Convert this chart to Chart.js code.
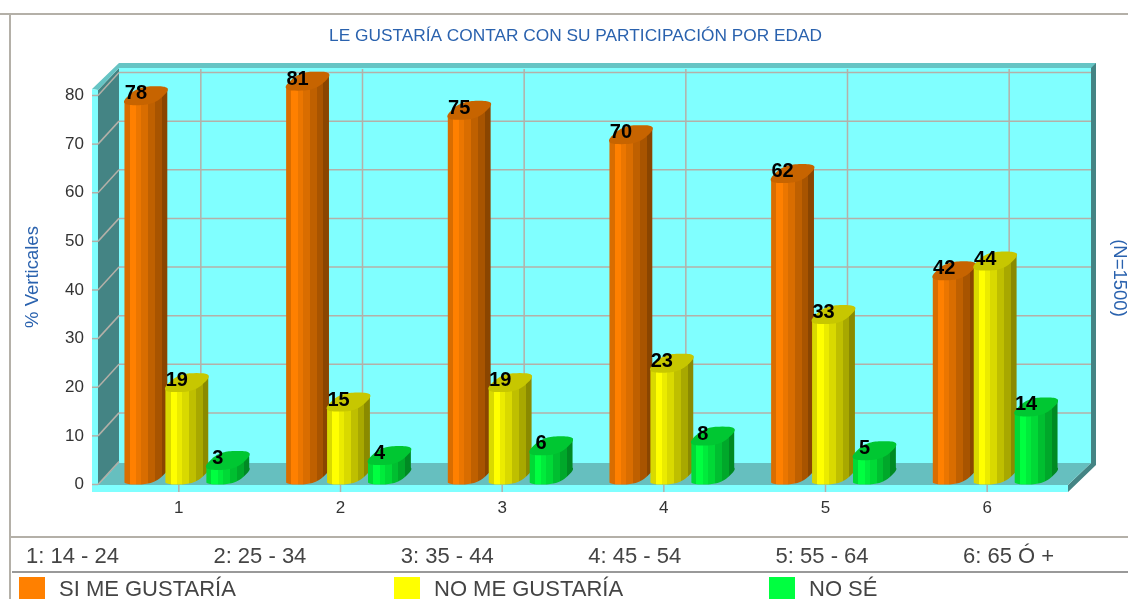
<!DOCTYPE html>
<html>
<head>
<meta charset="utf-8">
<title>Le gustaría contar con su participación por edad</title>
<script src="https://cdn.jsdelivr.net/npm/chart.js@4"></script>
<style>
html, body { margin: 0; padding: 0; background: #fff; overflow: hidden; }
canvas { display: block; }
</style>
</head>
<body>
<canvas id="myChart" width="1128" height="599"></canvas>
<script>
const categories = ['1', '2', '3', '4', '5', '6'];
const ageLabels = ['1: 14 - 24', '2: 25 - 34', '3: 35 - 44', '4: 45 - 54', '5: 55 - 64', '6: 65 Ó +'];
const siGusta = [78, 81, 75, 70, 62, 42];
const noGusta = [19, 15, 19, 23, 33, 44];
const noSe = [3, 4, 6, 8, 5, 14];
const seriesNames = ['SI ME GUSTARÍA', 'NO ME GUSTARÍA', 'NO SÉ'];
const seriesColors = [[255, 128, 0], [255, 255, 0], [0, 255, 64]];

const FONT = '"Liberation Sans", Arial, sans-serif';
const BLUE = '#2a62ae';
const GRID = '#b4b0a8';
const depthX = 22, depthY = 23;

function rgb(c, k) {
    return 'rgb(' + c.map(v => Math.round(v * k)).join(',') + ')';
}

function poly(ctx, pts, color) {
    ctx.fillStyle = color;
    ctx.beginPath();
    pts.forEach((p, i) => i ? ctx.lineTo(p[0], p[1]) : ctx.moveTo(p[0], p[1]));
    ctx.closePath();
    ctx.fill();
}

function line(ctx, x1, y1, x2, y2, color, w) {
    ctx.strokeStyle = color;
    ctx.lineWidth = w || 1;
    ctx.beginPath();
    ctx.moveTo(x1, y1);
    ctx.lineTo(x2, y2);
    ctx.stroke();
}

function spow(v) {
    return Math.sign(v) * Math.pow(Math.abs(v), 0.7);
}

// contorno de la tapa: circulo oblicuo algo cuadrado, como en el original
function rim(cx, cy, r, t) {
    const k = r / 21, s = spow(Math.sin(t));
    return [cx + 17.2 * k * spow(Math.cos(t)) + 9.5 * k * s, cy - 9.5 * s];
}

// caja 3D y rejilla, sacadas de las escalas
const walls = {
    id: 'walls',
    beforeDatasetsDraw(chart) {
        const ctx = chart.ctx;
        const a = chart.chartArea;
        const sx = chart.scales.x, sy = chart.scales.y;
        const L = a.left, R = a.right, B = a.bottom + 0.5;
        const backL = L + depthX - 1, backR = R + depthX + 1;
        const backT = 68, backB = B - depthY + 1;

        poly(ctx, [[backL, backT - 5], [backR + 5, backT - 5], [backR + 5, backB + 2], [R, B + 7], [R, B], [backR, backB], [backR, backT], [backL, backT]], '#448484');
        poly(ctx, [[backL, backT], [backR, backT], [backR, backB], [backL, backB]], '#80ffff');
        poly(ctx, [[L, 90], [backL, backT], [backL, backB], [L, B]], '#448484');
        poly(ctx, [[L, B], [backL, backB], [backR, backB], [R, B]], '#66bfbf');
        poly(ctx, [[L - 6, 89], [backL, backT - 5], [backR + 5, backT - 5], [backR, backT], [backL, backT], [L, 90]], '#66c4c4');
        poly(ctx, [[L - 6, 89], [L, 90], [L, B], [R, B], [R, B + 7], [L - 6, B + 7]], '#80ffff');

        sy.ticks.forEach((t, i) => {
            const y = sy.getPixelForTick(i);
            line(ctx, L - 6, y, L, y, GRID, 1.5);
            line(ctx, L, y, backL, y - depthY, GRID, 1.5);
            if (t.value > 0) line(ctx, backL, y - depthY, backR, y - depthY, GRID, 1.5);
        });
        sx.ticks.forEach((t, i) => {
            const x = sx.getPixelForTick(i);
            line(ctx, x + depthX, backT + 1, x + depthX, backB, GRID, 1.5);
            line(ctx, x, B, x, B + 7, GRID, 1.5);
        });
    },
    // las barras se pintan despues como cilindros
    beforeDatasetDraw() {
        return false;
    },
    afterDatasetsDraw(chart) {
        const ctx = chart.ctx;
        const sink = 9.5, shift = 8;

        chart.data.datasets.forEach((ds, d) => {
            const c = seriesColors[d];
            chart.getDatasetMeta(d).data.forEach(bar => {
                const cx = bar.x + shift;
                const r = bar.width / 2 + 1;
                const top = bar.y - sink, base = bar.base - sink;

                const g = ctx.createLinearGradient(cx - r, 0, cx + r, 0);
                const bands = [[0, 0.85], [0.12, 1], [0.27, 0.92], [0.39, 0.85], [0.55, 0.75], [0.71, 0.66], [0.87, 0.54]];
                bands.forEach((b, i) => {
                    if (i) g.addColorStop(b[0], rgb(c, bands[i - 1][1]));
                    g.addColorStop(b[0], rgb(c, b[1]));
                });
                g.addColorStop(1, rgb(c, 0.54));

                const body = [];
                for (let k = 0; k <= 36; k++) body.push(rim(cx, base, r, Math.PI * (1.25 + k / 36)));
                body.push(rim(cx, top, r, Math.PI * 0.25));
                body.push(rim(cx, top, r, Math.PI * 1.25));
                poly(ctx, body, g);

                const cap = [];
                for (let k = 0; k < 72; k++) cap.push(rim(cx, top, r, Math.PI * 2 * k / 72));
                poly(ctx, cap, rgb(c, 0.78));
            });
        });

        ctx.fillStyle = '#000';
        ctx.font = 'bold 20px ' + FONT;
        ctx.textAlign = 'center';
        ctx.textBaseline = 'middle';
        chart.data.datasets.forEach((ds, d) => {
            chart.getDatasetMeta(d).data.forEach((bar, i) => {
                ctx.fillText(ds.data[i], bar.x + shift - 10, bar.y - sink - 2);
            });
        });
    },
    afterDraw(chart) {
        const ctx = chart.ctx;
        ctx.save();
        line(ctx, 0, 14, 1128, 14, GRID, 2);
        line(ctx, 10, 14, 10, 599, GRID, 2);
        line(ctx, 10, 537, 1128, 537, GRID, 2);
        line(ctx, 12, 572, 1128, 572, '#999', 2);

        ctx.textBaseline = 'middle';
        ctx.textAlign = 'center';
        ctx.fillStyle = BLUE;
        ctx.font = '17.3px ' + FONT;
        ctx.fillText('LE GUSTARÍA CONTAR CON SU PARTICIPACIÓN POR EDAD', 575.5, 36.5);

        ctx.font = '18.5px ' + FONT;
        ctx.save();
        ctx.translate(33, 277);
        ctx.rotate(-Math.PI / 2);
        ctx.fillText('% Verticales', 0, 0);
        ctx.restore();

        ctx.save();
        ctx.translate(1119, 278);
        ctx.rotate(Math.PI / 2);
        ctx.fillText('(N=1500)', 0, 0);
        ctx.restore();

        ctx.textAlign = 'left';
        ctx.fillStyle = '#444';
        ctx.font = '22px ' + FONT;
        ageLabels.forEach((txt, i) => ctx.fillText(txt, 26 + i * 187.4, 557));

        seriesNames.forEach((txt, i) => {
            const x = 19 + i * 375;
            ctx.fillStyle = rgb(seriesColors[i], 1);
            ctx.fillRect(x, 577, 26, 22);
            ctx.fillStyle = '#444';
            ctx.fillText(txt, x + 40, 590);
        });
        ctx.restore();
    }
};

new Chart(document.getElementById('myChart'), {
    type: 'bar',
    plugins: [walls],
    data: {
        labels: categories,
        datasets: [
            { label: seriesNames[0], data: siGusta, backgroundColor: rgb(seriesColors[0], 1) },
            { label: seriesNames[1], data: noGusta, backgroundColor: rgb(seriesColors[1], 1) },
            { label: seriesNames[2], data: noSe, backgroundColor: rgb(seriesColors[2], 1) }
        ]
    },
    options: {
        responsive: false,
        animation: false,
        layout: { padding: { top: 95.5, right: 60, left: 0, bottom: 0 } },
        plugins: { legend: { display: false }, title: { display: false }, tooltip: { enabled: false } },
        datasets: { bar: { categoryPercentage: 0.76, barPercentage: 1 } },
        scales: {
            x: {
                grid: { display: false },
                border: { display: false },
                ticks: { color: '#333', font: { family: FONT, size: 17 }, padding: 6, maxRotation: 0 },
                afterFit(scale) { scale.height = 114.5; }
            },
            y: {
                min: 0,
                max: 80,
                grid: { display: false },
                border: { display: false },
                ticks: { stepSize: 10, color: '#333', font: { family: FONT, size: 17 }, padding: 6 },
                afterFit(scale) { scale.width = 98; }
            }
        }
    }
});
</script>
</body>
</html>
